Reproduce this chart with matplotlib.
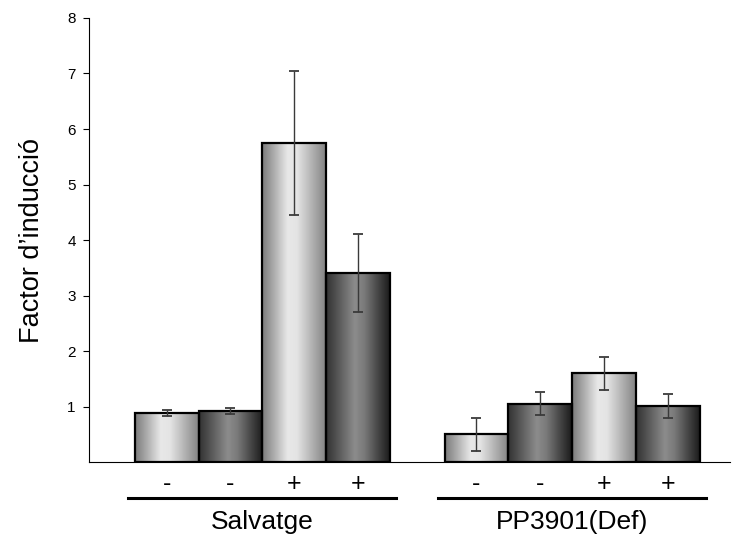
import numpy as np
import matplotlib.pyplot as plt
from matplotlib.colors import LinearSegmentedColormap

plt.rcParams['font.family'] = ['Liberation Sans', 'DejaVu Sans']

# data
groups = ['Salvatge', 'PP3901(Def)']
signs = ['-', '-', '+', '+']
values = [[0.88, 0.92, 5.75, 3.41],
          [0.50, 1.05, 1.60, 1.01]]
errors = [[0.05, 0.05, 1.30, 0.70],
          [0.30, 0.21, 0.30, 0.21]]
yticks = [1, 2, 3, 4, 5, 6, 7, 8]

# bar styles alternate light / dark gradient
light = LinearSegmentedColormap.from_list(
    'light', [(0, '#7c7c7c'), (0.4, '#e8e8e8'), (0.55, '#e4e4e4'), (1, '#858585')])
dark = LinearSegmentedColormap.from_list(
    'dark', [(0, '#333333'), (0.45, '#8c8c8c'), (0.6, '#7a7a7a'), (1, '#1c1c1c')])
styles = [light, dark, light, dark]

fig = plt.figure(figsize=(7.32, 5.34), dpi=100)
ax = fig.add_axes([0.1216, 0.1348, 0.875, 0.8315])

grad = np.linspace(0, 1, 64).reshape(1, -1)
group_x = [0.0, 4.86]
width = 1.0

for g, (gname, vals, errs) in enumerate(zip(groups, values, errors)):
    xs = group_x[g] + np.arange(len(vals))
    for x, v, e, cmap, s in zip(xs, vals, errs, styles, signs):
        ax.imshow(grad, cmap=cmap, extent=(x - width / 2, x + width / 2, 0, v),
                  aspect='auto', zorder=1)
        ax.bar(x, v, width=width, facecolor='none', edgecolor='black',
               linewidth=1.6, zorder=2)
        ax.errorbar(x, v, yerr=e, fmt='none', ecolor='#3a3a3a',
                    elinewidth=1.0, capsize=3.5, capthick=1.3, zorder=3)
        ax.text(x, -0.049, s, transform=ax.get_xaxis_transform(),
                ha='center', va='center', fontsize=18, clip_on=False)
    ax.plot([xs[0] - 0.61, xs[-1] + 0.6], [-0.08, -0.08],
            transform=ax.get_xaxis_transform(), color='black',
            linewidth=2.2, clip_on=False)
    ax.text(xs.mean(), -0.134, gname, transform=ax.get_xaxis_transform(),
            ha='center', va='center', fontsize=19, clip_on=False)

ax.set_xlim(-1.22, 8.83)
ax.set_ylim(0, 8)
ax.set_yticks(yticks)
ax.set_xticks([])
ax.tick_params(axis='y', direction='out', length=4.5, width=0.8,
               labelsize=11, pad=5)
ax.spines['top'].set_visible(False)
ax.spines['right'].set_visible(False)
ax.spines['left'].set_linewidth(0.8)
ax.spines['bottom'].set_linewidth(0.8)
ax.set_ylabel("Factor d\u2019inducci\u00f3", fontsize=19.5, labelpad=16)

fig.savefig('out.png', dpi=100)
